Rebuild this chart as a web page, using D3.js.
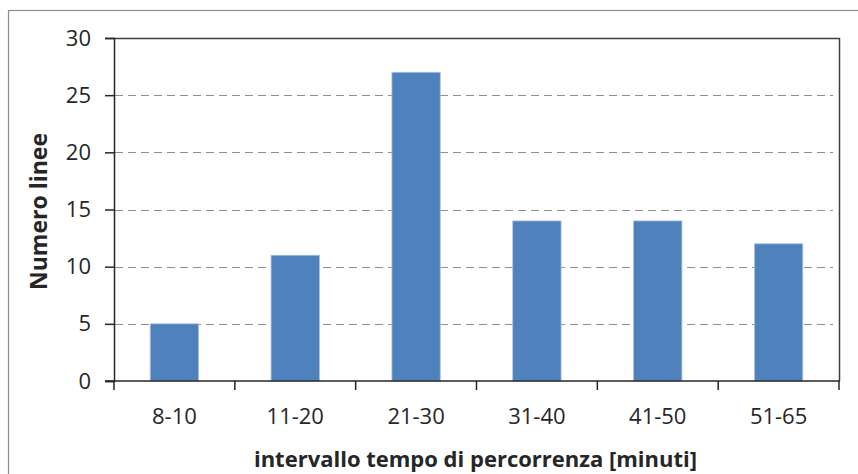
<!DOCTYPE html>
<html>
<head>
<meta charset="utf-8">
<script src="https://cdn.jsdelivr.net/npm/d3@7/dist/d3.min.js"></script>
<style>
  html, body { margin: 0; padding: 0; background: #fff; }
  svg { display: block; }
  text { font-family: "Open Sans", "Liberation Sans", sans-serif; fill: #262626; }
</style>
</head>
<body>
<svg id="chart" width="858" height="474"></svg>
<script>
const categories = ["8-10", "11-20", "21-30", "31-40", "41-50", "51-65"];
const values = [5, 11, 27, 14, 14, 12];
const yTicks = [0, 5, 10, 15, 20, 25, 30];
const xTitle = "intervallo tempo di percorrenza [minuti]";
const yTitle = "Numero linee";

const svg = d3.select("#chart");
const W = 858, H = 474;
const m = { left: 114, right: 839, top: 38, bottom: 381 };

// outer chart frame (extends past right/bottom edges)
svg.append("rect")
  .attr("x", 8.5).attr("y", 10.5)
  .attr("width", W + 10).attr("height", H + 10)
  .attr("fill", "#fff").attr("stroke", "#8c8c8c").attr("stroke-width", 1.2);

const x = d3.scaleBand().domain(categories).range([m.left, m.right]).paddingInner(0.6).paddingOuter(0.3);
const y = d3.scaleLinear().domain([0, 30]).range([m.bottom, m.top]);

// gridlines
svg.append("g").selectAll("line")
  .data(yTicks.filter(t => t > 0 && t < 30))
  .join("line")
  .attr("x1", m.left + 1).attr("x2", m.right - 6)
  .attr("y1", d => Math.round(y(d)) + 0.5).attr("y2", d => Math.round(y(d)) + 0.5)
  .attr("stroke", "#8f8f8f").attr("stroke-width", 1.2)
  .attr("stroke-dasharray", "8,5");

// bars
svg.append("g").selectAll("rect")
  .data(values)
  .join("rect")
  .attr("x", (d, i) => x(categories[i]))
  .attr("width", x.bandwidth())
  .attr("y", d => y(d))
  .attr("height", d => y(0) - y(d))
  .attr("fill", "#4f81bd")
  .attr("stroke", "#a9c1df").attr("stroke-width", 0.8);

// plot frame top and right
svg.append("path")
  .attr("d", `M${m.left},${m.top + 0.5}H${m.right + 0.5}V${m.bottom}`)
  .attr("fill", "none").attr("stroke", "#404040").attr("stroke-width", 1.5);

// y axis
const yAxis = d3.axisLeft(y).tickValues(yTicks).tickSize(9).tickPadding(14);
const gy = svg.append("g").attr("transform", `translate(${m.left},0)`).call(yAxis);
gy.select(".domain").attr("stroke", "#262626").attr("stroke-width", 1.5);
gy.selectAll(".tick line").attr("stroke", "#262626").attr("stroke-width", 1.5);
gy.selectAll(".tick text").style("font-size", "22px").attr("fill", "#262626");

// x axis: ticks at category boundaries
const xAxisG = svg.append("g").attr("transform", `translate(0,${m.bottom})`);
xAxisG.append("line").attr("x1", m.left - 9).attr("x2", m.right + 0.75)
  .attr("stroke", "#262626").attr("stroke-width", 1.5);
const bounds = categories.map(c => x(c) - x.step() * x.paddingOuter()).concat([m.right]);
xAxisG.selectAll("line.tk").data(bounds).join("line").attr("class", "tk")
  .attr("x1", d => d).attr("x2", d => d).attr("y1", 0).attr("y2", 9)
  .attr("stroke", "#262626").attr("stroke-width", 1.5);
xAxisG.selectAll("text").data(categories).join("text")
  .attr("x", d => x(d) + x.bandwidth() / 2)
  .attr("y", 43)
  .attr("text-anchor", "middle")
  .style("font-size", "22px")
  .text(d => d);

// axis titles
svg.append("text")
  .attr("x", (m.left + m.right) / 2 - 1).attr("y", 467)
  .attr("text-anchor", "middle")
  .style("font-size", "22px").style("font-weight", "bold")
  .text(xTitle);

svg.append("text")
  .attr("transform", `translate(47,${(m.top + m.bottom) / 2 + 2}) rotate(-90)`)
  .attr("text-anchor", "middle")
  .style("font-size", "23px").style("font-weight", "bold")
  .text(yTitle);
</script>
</body>
</html>
